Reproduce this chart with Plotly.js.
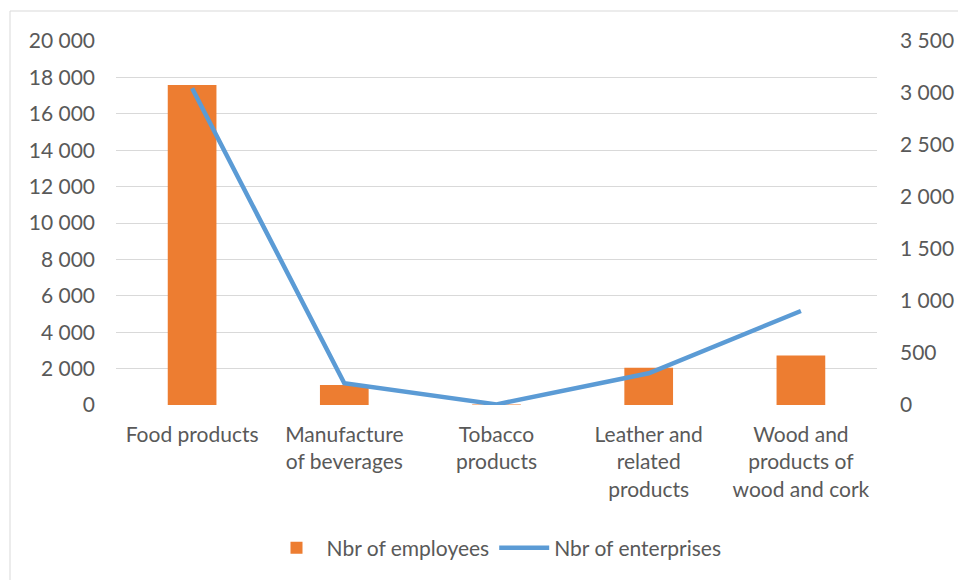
<!DOCTYPE html>
<html>
<head>
<meta charset="utf-8">
<script src="https://cdn.plot.ly/plotly-3.0.1.min.js"></script>
<style>html,body{margin:0;padding:0;background:#fff;}#chart{width:958px;height:580px;}</style>
</head>
<body>
<div id="chart"></div>
<script>
const categories = ["Food products", "Manufacture<br>of beverages", "Tobacco<br>products", "Leather and<br>related<br>products", "Wood and<br>products of<br>wood and cork"];
const employees = [17580, 1100, 30, 2040, 2720];
const enterprises = [3045, 210, 6, 305, 904];
const leftTicks = [0, 2000, 4000, 6000, 8000, 10000, 12000, 14000, 16000, 18000, 20000];
const rightTicks = [0, 500, 1000, 1500, 2000, 2500, 3000, 3500];

const fontFam = "Lato, 'Open Sans', sans-serif";
const textCol = "#595959";
const fs = 21;

const traces = [
  {
    type: "bar", x: categories, y: employees, name: "Nbr of employees",
    marker: {color: "#ED7D31"}, yaxis: "y", width: 0.32
  },
  {
    type: "scatter", mode: "lines", x: categories, y: enterprises, name: "Nbr of enterprises",
    line: {color: "#5B9BD5", width: 4.5}, yaxis: "y2"
  }
];

const layout = {
  width: 958, height: 580,
  margin: {l: 116, r: 81, t: 41, b: 175},
  paper_bgcolor: "#fff", plot_bgcolor: "#fff",
  separators: ", ",
  font: {family: fontFam, size: fs, color: textCol},
  showlegend: true,
  legend: {orientation: "h", x: 0.5, xanchor: "center", y: -0.393, yanchor: "middle",
           font: {family: fontFam, size: fs, color: textCol}, itemwidth: 50, traceorder: "normal"},
  xaxis: {type: "category", showgrid: false, showline: false, zeroline: false, ticks: "",
          ticklabelstandoff: 15,
          tickfont: {family: fontFam, size: fs, color: textCol}, fixedrange: true},
  yaxis: {range: [0, 20000], tickvals: leftTicks, tickformat: ",d", showgrid: true, gridcolor: "#D9D9D9",
          gridwidth: 1, zeroline: false, showline: false, ticks: "", ticklabelstandoff: 20,
          tickfont: {family: fontFam, size: fs, color: textCol}},
  yaxis2: {range: [0, 3500], tickvals: rightTicks, tickformat: ",d", overlaying: "y", side: "right",
           showgrid: false, zeroline: false, showline: false, ticks: "", ticklabelstandoff: 22,
           tickfont: {family: fontFam, size: fs, color: textCol}},
  shapes: [{type: "rect", xref: "paper", yref: "paper",
            x0: (10 - 116) / 761, x1: (970 - 116) / 761, y0: (405 - 590) / 364, y1: (405 - 11) / 364,
            line: {color: "#D9D9D9", width: 1}, fillcolor: "rgba(0,0,0,0)", layer: "below"}]
};

Plotly.newPlot("chart", traces, layout, {displayModeBar: false, staticPlot: true});
</script>
</body>
</html>
